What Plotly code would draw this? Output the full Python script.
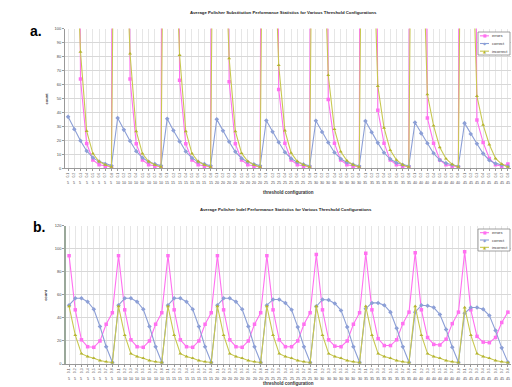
import plotly.graph_objects as go

# ---------------- data ----------------
thresholds = ["0.1", "0.2", "0.3", "0.4", "0.5", "0.6", "0.7", "0.8"]
groups = [5, 10, 15, 20, 25, 30, 35, 40, 45]

# Chart a: substitution (values above 100 run off the top of the chart)
sub_errors = [
    1500, 800, 63.8, 17.7, 6.0, 2.5, 1.5, 1.0,
    1500, 800, 63.8, 17.5, 6.0, 2.5, 1.5, 1.0,
    1500, 800, 63.0, 17.5, 6.0, 2.5, 1.5, 1.0,
    1500, 800, 61.9, 17.5, 6.0, 2.5, 1.5, 1.0,
    1500, 800, 56.4, 18.0, 6.0, 2.5, 1.5, 1.0,
    1500, 800, 49.3, 18.0, 6.0, 2.5, 1.5, 1.0,
    1500, 800, 41.6, 18.0, 6.0, 2.5, 1.5, 1.0,
    1500, 800, 36.0, 18.0, 6.0, 2.5, 1.5, 1.0,
    1500, 800, 34.5, 18.5, 7.0, 2.5, 1.5, 3.0,
]
sub_correct = [
    36.8, 28.0, 19.7, 12.4, 7.6, 4.8, 3.1, 1.9,
    36.0, 27.5, 19.5, 12.2, 7.5, 4.7, 3.0, 1.9,
    35.5, 27.0, 19.2, 12.0, 7.4, 4.6, 3.0, 1.8,
    35.0, 26.8, 19.0, 11.8, 7.2, 4.5, 2.9, 1.8,
    34.2, 26.2, 18.6, 11.5, 7.0, 4.4, 2.8, 1.7,
    34.0, 26.0, 18.4, 11.3, 6.8, 4.2, 2.7, 1.6,
    33.8, 25.8, 18.2, 11.1, 6.6, 4.0, 2.6, 1.6,
    32.8, 25.0, 17.9, 10.7, 6.0, 3.6, 2.5, 1.5,
    32.3, 24.5, 17.5, 10.5, 5.8, 3.5, 2.4, 1.5,
]
sub_incorrect = [
    500, 200, 83.3, 26.6, 10.5, 4.8, 2.5, 1.0,
    500, 200, 82.0, 26.5, 10.5, 4.8, 2.5, 1.0,
    500, 200, 81.0, 26.5, 10.5, 4.8, 2.5, 1.0,
    500, 200, 78.6, 26.5, 10.8, 5.0, 2.5, 1.0,
    500, 200, 73.8, 27.0, 11.0, 5.0, 2.5, 1.0,
    500, 200, 66.6, 28.0, 12.0, 5.5, 2.5, 1.0,
    500, 200, 58.8, 29.0, 13.0, 6.0, 2.5, 1.0,
    500, 200, 52.8, 30.5, 15.0, 6.9, 2.8, 1.0,
    500, 200, 51.6, 31.0, 17.0, 7.0, 3.0, 1.0,
]

# Chart b: indel
indel_errors = [
    94.0, 47.0, 21.0, 15.0, 14.5, 20.0, 34.5, 44.5,
    94.0, 47.0, 21.0, 15.0, 14.5, 20.0, 34.5, 44.5,
    94.0, 47.0, 21.0, 15.0, 14.5, 20.0, 34.5, 44.5,
    94.0, 47.0, 21.0, 15.0, 14.5, 20.0, 34.5, 44.5,
    94.0, 47.0, 21.0, 15.0, 15.0, 20.0, 34.5, 44.5,
    95.0, 47.0, 21.0, 15.5, 15.0, 20.0, 34.5, 44.5,
    96.0, 47.0, 22.0, 16.0, 16.0, 21.0, 35.0, 45.0,
    96.5, 47.0, 23.0, 17.0, 16.5, 21.5, 35.0, 45.0,
    97.5, 47.0, 24.0, 19.0, 18.5, 23.0, 36.0, 45.0,
]
indel_correct = [
    51.0, 57.0, 57.0, 54.0, 47.5, 32.5, 15.0, 1.5,
    51.0, 57.0, 57.0, 54.0, 47.5, 32.5, 15.0, 1.5,
    51.0, 57.0, 57.0, 54.0, 47.5, 32.5, 15.0, 1.5,
    51.0, 57.0, 57.0, 54.0, 47.5, 32.5, 15.0, 1.5,
    51.0, 56.0, 56.0, 53.0, 47.0, 32.0, 15.0, 1.5,
    50.0, 56.0, 55.5, 52.5, 46.5, 32.0, 15.0, 1.5,
    48.0, 53.0, 53.0, 51.0, 45.0, 31.0, 15.0, 1.5,
    45.0, 51.0, 50.5, 49.0, 43.0, 30.0, 14.5, 1.5,
    44.0, 49.0, 49.0, 47.5, 42.0, 29.0, 14.0, 1.5,
]
indel_incorrect = [
    50.0, 25.0, 9.0, 6.5, 5.0, 3.0, 2.0, 1.3,
    50.0, 25.0, 9.0, 6.5, 5.0, 3.0, 2.0, 1.3,
    50.0, 25.0, 9.0, 6.5, 5.0, 3.0, 2.0, 1.3,
    50.0, 25.0, 9.0, 6.5, 5.0, 3.0, 2.0, 1.3,
    50.0, 25.0, 9.0, 6.5, 5.0, 3.0, 2.0, 1.3,
    50.0, 25.0, 9.0, 6.5, 5.0, 3.0, 2.0, 1.3,
    50.0, 25.0, 9.0, 6.5, 5.0, 3.0, 2.0, 1.3,
    50.0, 25.0, 9.0, 6.5, 5.0, 3.0, 2.0, 1.3,
    49.0, 25.0, 9.0, 6.5, 5.0, 3.0, 2.0, 1.3,
]

series_names = ["errors", "correct", "incorrect"]

# ---------------- styling ----------------
W, H = 512, 387
PINK = "#FF70F0"
BLUE = "#8C9FD6"
YEL = "#C8C850"
YEL_M = "#B4B430"
COLORS = [PINK, BLUE, YEL]
MCOLORS = [PINK, BLUE, YEL_M]
SYMBOLS = ["square", "diamond", "triangle-up"]
SYM_CHARS = ["■", "◆", "▲"]
FONT = "Liberation Sans"

tick_labels = [t for g in groups for t in thresholds]
group_labels = [str(g) for g in groups for t in thresholds]
xs = list(range(len(tick_labels)))

fig = go.Figure()

def add_series(xaxis, yaxis, data):
    for name, ys, lc, mc, sym in zip(series_names, data, COLORS, MCOLORS, SYMBOLS):
        fig.add_trace(go.Scatter(
            x=xs, y=ys, name=name, mode="lines+markers",
            xaxis=xaxis, yaxis=yaxis, showlegend=False,
            line=dict(color=lc, width=1.1),
            marker=dict(color=mc, size=3.5, symbol=sym),
            cliponaxis=True,
        ))

add_series("x", "y", [sub_errors, sub_correct, sub_incorrect])
add_series("x2", "y2", [indel_errors, indel_correct, indel_incorrect])

# plot area pixel boxes
a_left, a_right, a_top, a_bot = 65, 511, 28.5, 168.3
b_left, b_right, b_top, b_bot = 66, 511, 225.7, 364.0

def px_x(p):
    return p / W

def px_y(p):
    return 1 - p / H

common_x = dict(
    tickmode="array", tickvals=xs, ticktext=tick_labels, tickangle=-90,
    tickfont=dict(size=3.5, color="#555", family=FONT), range=[-0.5, len(xs) - 0.5],
    showgrid=True, gridcolor="#E6E6E6", showline=True, linecolor="#999", linewidth=1,
    ticks="outside", ticklen=2, tickcolor="#999", zeroline=False, automargin=False,
)
ycommon = dict(tickfont=dict(size=4, color="#444", family=FONT), showgrid=True, gridcolor="#D8D8D8",
               showline=True, ticks="outside", ticklen=2, tickcolor="#999",
               zeroline=False, automargin=False)
fig.update_layout(
    width=W, height=H,
    margin=dict(l=0, r=0, t=0, b=0),
    paper_bgcolor="white", plot_bgcolor="white",
    font=dict(family=FONT, color="#222"),
    showlegend=False,
    xaxis=dict(common_x, domain=[px_x(a_left), px_x(a_right)], anchor="y"),
    yaxis=dict(ycommon, domain=[px_y(a_bot), px_y(a_top)], range=[0, 100], dtick=10, anchor="x",
               linecolor="#999"),
    xaxis2=dict(common_x, domain=[px_x(b_left), px_x(b_right)], anchor="y2"),
    yaxis2=dict(ycommon, domain=[px_y(b_bot), px_y(b_top)], range=[0, 120], dtick=20, anchor="x2",
                linecolor="#9AA89A", linewidth=1.5),
)

ann = []
shapes = []

def txt(text, x, y, size, color="#333", family=FONT, xanchor="center", angle=0, xref="paper"):
    ann.append(dict(text=text, x=x, y=y, xref=xref, yref="paper", showarrow=False,
                    xanchor=xanchor, yanchor="middle", textangle=angle, borderpad=0,
                    font=dict(size=size, family=family, color=color)))

# panel letters
txt("<b>a.</b>", px_x(35.5), px_y(31), 14, "black")
txt("<b>b.</b>", px_x(39), px_y(227), 14, "black")
# titles
txt("<b>Average Polisher Substitution Performance Statistics for Various Threshold Configurations</b>",
    px_x(283), px_y(12), 4.3, "#222")
txt("<b>Average Polisher Indel Performance Statistics for Various Threshold Configurations</b>",
    px_x(286), px_y(209), 4.3, "#222")
# y titles
for yc in [(a_top + a_bot) / 2, (b_top + b_bot) / 2]:
    txt("<b>count</b>", px_x(46), px_y(yc), 4, angle=-90)
# x titles
txt("<b>threshold configuration</b>", px_x(288), px_y(192), 4.5)
txt("<b>threshold configuration</b>", px_x(288), px_y(383.5), 4.5)
# second row of category labels (group number under each tick)
for xr, yrow in [("x", 183), ("x2", 378.5)]:
    for i, g in enumerate(group_labels):
        txt(g, xs[i], px_y(yrow), 3.6, "#444", xref=xr)

# compact legends (box + sample line + marker + label)
for (lx0, ly0, lx1, ly1) in [(478, 32, 510, 55), (478, 229, 510, 251)]:
    shapes.append(dict(type="rect", xref="paper", yref="paper",
                       x0=px_x(lx0), x1=px_x(lx1), y0=px_y(ly1), y1=px_y(ly0),
                       line=dict(color="#888", width=0.8), fillcolor="white", layer="above"))
    row_h = (ly1 - ly0) / 3
    for k, name in enumerate(series_names):
        yc = ly0 + row_h * (k + 0.5)
        shapes.append(dict(type="line", xref="paper", yref="paper",
                           x0=px_x(lx0 + 2), x1=px_x(lx0 + 11), y0=px_y(yc), y1=px_y(yc),
                           line=dict(color=COLORS[k], width=1.1), layer="above"))
        txt(SYM_CHARS[k], px_x(lx0 + 6.5), px_y(yc), 4, MCOLORS[k], family="DejaVu Sans")
        txt(name, px_x(lx0 + 13), px_y(yc), 4, "#333", xanchor="left")

fig.update_layout(annotations=ann, shapes=shapes)

fig.write_html(
    "out.html",
    config={"displayModeBar": False},
    post_script="document.body.style.margin='0';document.body.style.overflow='hidden';",
)
